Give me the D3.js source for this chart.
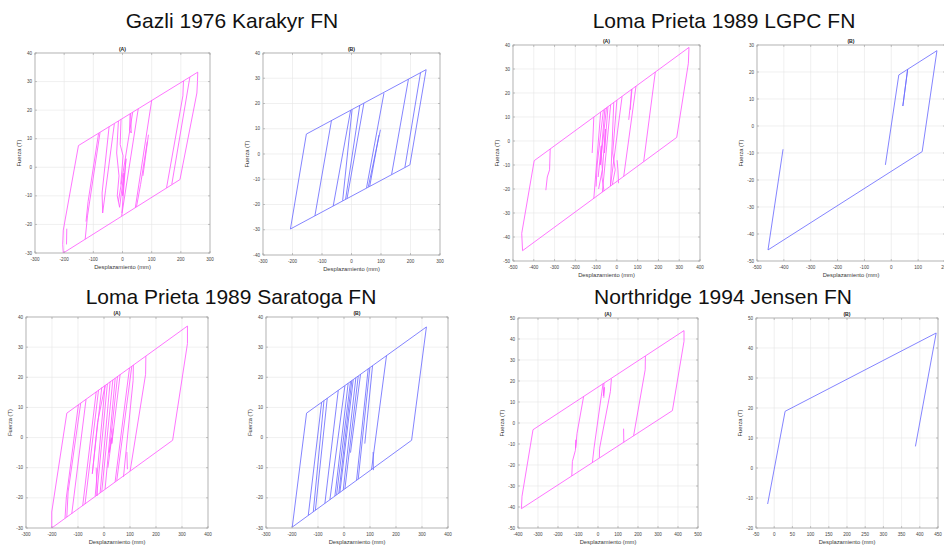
<!DOCTYPE html>
<html><head><meta charset="utf-8">
<script src="https://cdn.jsdelivr.net/npm/d3@7"></script>
<style>body{margin:0;background:#fff;overflow:hidden}svg{display:block}text{font-family:"Liberation Sans",Arial,sans-serif}</style>
</head><body>
<svg id="c" width="944" height="547"></svg>
<script>
// ---------- titles ----------
const groupTitles = ["Gazli 1976 Karakyr FN","Loma Prieta 1989 LGPC FN","Loma Prieta 1989 Saratoga FN","Northridge 1994 Jensen FN"];
const subTitles = ["(A)","(B)"];
const xLabel = "Desplazamiento (mm)";
const yLabel = "Fuerza (T)";

// ---------- tick labels ----------
const xTicksGazli = [-300,-200,-100,0,100,200,300];
const yTicksGazliA = [-30,-20,-10,0,10,20,30,40];
const yTicksGazliB = [-40,-30,-20,-10,0,10,20,30,40];
const xTicksLgpcA = [-500,-400,-300,-200,-100,0,100,200,300,400];
const yTicksLgpcA = [-50,-40,-30,-20,-10,0,10,20,30,40];
const xTicksLgpcB = [-500,-400,-300,-200,-100,0,100,200];
const yTicksLgpcB = [-50,-40,-30,-20,-10,0,10,20,30];
const xTicksSaratoga = [-300,-200,-100,0,100,200,300,400];
const yTicksSaratoga = [-30,-20,-10,0,10,20,30,40];
const xTicksNorthA = [-400,-300,-200,-100,0,100,200,300,400,500];
const yTicksNorthA = [-50,-40,-30,-20,-10,0,10,20,30,40,50];
const xTicksNorthB = [-50,0,50,100,150,200,250,300,350,400,450];
const yTicksNorthB = [-20,-10,0,10,20,30,40,50];

// ---------- series: hysteresis strokes [desplazamiento mm, fuerza T] ----------
const gazliA = [
 [[-151,7.6],[258,33.3],[257,30],[255,26],[197,-4.3],[-203,-30],[-205,-27],[-203,-22],[-151,7.6]],
 [[-191,-21.5],[-192,-27]],
 [[-77,12.2],[-120,-17],[-128,-25.2]],
 [[-82,11.9],[-118,-12],[-125,-19]],
 [[-46,14.2],[-70,-9],[-68,-16]],
 [[-68,-16],[-58,-8],[-28,15.2]],
 [[-14,16.2],[-20,5],[-12,-3],[-18,-10],[-10,-14]],
 [[-10,-14],[5,-2],[0,-10],[12,3],[-2,-16]],
 [[-5,16.8],[-8,8],[2,4],[-6,-6]],
 [[26,18.7],[24,13],[30,12],[28,18.8]],
 [[35,19.3],[-14,-12]],
 [[54,20.5],[-3,-17]],
 [[100,23.4],[44,-14.1]],
 [[89,11.4],[70,-3]],
 [[85,9],[62,-6],[48,-13.8]],
 [[209,30.2],[207,25],[151,-7.2]],
 [[231,31.6],[169,-6]]
];
const gazliB = [
 [[-153,7.9],[253,33.4],[198,-4.3],[-207,-29.7],[-153,7.9]],
 [[-68,13.2],[-124,-24.5]],
 [[-3,17.3],[-62,-20.6]],
 [[2,17.6],[-30,-18.5]],
 [[28,19.3],[-20,-17.9]],
 [[42,20.1],[-15,-17.6]],
 [[110,24.1],[51,-13.4]],
 [[98,9.6],[57,-13]],
 [[93,7.5],[62,-12.7]],
 [[193,29.6],[136,-8.1]],
 [[234,32.2],[181,-5.3]]
];
const lgpcA = [
 [[-398,-8.2],[347,39],[344,32.4],[288,1.5],[-454,-45.7],[-458,-38.5],[-398,-8.2]],
 [[-321,-3.3],[-324,-12],[-335,-15],[-342,-20.5]],
 [[-111,10],[-116,0],[-119,-5]],
 [[-78,12.1],[-111,-23.9]],
 [[-65,12.9],[-95,-10],[-100,-19]],
 [[-58,13.4],[-75,-5],[-70,-12],[-88,-20]],
 [[-50,13.9],[-80,-10],[-75,-2],[-90,-15]],
 [[-43,14.3],[-60,-5],[-55,5],[-72,-15],[-62,-20.9]],
 [[-30,15.1],[-70,-21.3]],
 [[-15,16.1],[-31,-18.8]],
 [[0,17],[-20,-5],[-8,-12],[-22,-18.2]],
 [[25,18.6],[-31,-18.8]],
 [[73,21.7],[57,8.8]],
 [[70,21.5],[65,13]],
 [[92,22.9],[33,-14.7]],
 [[185,28.8],[129,-8.6]],
 [[1,-8],[5,-12],[8,-17.6]]
];
const lgpcB = [
 [[-22,-14.4],[28,18.9],[61,21],[43,7.4],[61,21],[170,27.9],[115,-9.5],[-459,-45.9],[-403,-8.6]]
];
const saratogaA = [
 [[-143,8.1],[321,37],[321,31.2],[264,-0.9],[-201,-30],[-201,-24.7],[-143,8.1]],
 [[-98.5,10.9],[-145,-20],[-150,-26.8]],
 [[-89.5,11.4],[-138,-18],[-143,-26.4]],
 [[-69,12.7],[-124,-25.3]],
 [[-30,15.2],[-82,-22.7]],
 [[-21,15.8],[-73,-22.1]],
 [[-8.6,16.6],[-30,0],[-45,-12]],
 [[-45,-12],[-25,5],[4.2,17.3]],
 [[4.2,17.3],[-34,-19.5]],
 [[13,17.8],[-28,-19.2]],
 [[23.5,18.5],[-15,-18.4]],
 [[34,19.1],[-8.6,-18]],
 [[43,19.7],[4.2,-17.1]],
 [[52,20.3],[20,-5],[30,0],[15,-10]],
 [[62,20.9],[30,-2],[35,3]],
 [[98,23.1],[42.7,-14.7]],
 [[107,23.7],[49,-14.3]],
 [[113,24.1],[112,19],[75,-13]],
 [[161,27],[160,21],[100.5,-11.1]],
 [[88,-4.8],[90,-10.5]],
 [[-30,-10],[-26,-19.3]]
];
const saratogaB = [
 [[-144,8.1],[317,36.7],[260,-0.9],[-199,-29.7],[-144,8.1]],
 [[-86,11.7],[-137.4,-25.8]],
 [[-77,12.3],[-118,-24.6]],
 [[-64.4,13.1],[-110,-24.1]],
 [[-22,15.7],[-73.4,-21.8]],
 [[3.5,17.2],[-54.2,-20.6]],
 [[16,18],[-35,-19.4]],
 [[25,18.6],[-28.6,-19]],
 [[30,18.9],[-20,-18.5]],
 [[35.5,19.2],[-15.8,-18.2]],
 [[45.7,19.9],[-3,-17.4]],
 [[54.7,20.4],[3.5,-17]],
 [[63.6,21],[25,-5]],
 [[93,22.8],[48.3,-14.2]],
 [[99.5,23.2],[54.7,-13.8]],
 [[109.7,23.8],[80,-2]],
 [[163.5,27.2],[105.9,-10.6]],
 [[112,-4.8],[113,-10.8]]
];
const northA = [
 [[-325,-3.2],[430,44],[430,38.9],[372,5.9],[-383,-40.8],[-380,-34.9],[-325,-3.2]],
 [[-72,12.6],[-105,-5],[-112,-12],[-110,-8],[-113,-13],[-128,-18.3],[-131,-25.2]],
 [[30,19],[27,13],[32,17],[29,12]],
 [[-28,-18.8],[-20,-12],[25,18.7]],
 [[7,-16.6],[8,-12],[62,15],[67,21.1]],
 [[237,31.9],[236,25.4],[178,-6.1]],
 [[128,-2.7],[129,-9.2]]
];
const northB = [
 [[-18,-12],[30,18.9],[445,45],[388,7.2]]
];

// ---------- layout ----------
const MAG = "#ff5cff", BLU = "#6e6eff";
const panels = [
 {data:gazliA, color:MAG, sub:0, box:[35,53,210,253], xd:[-300,300], yd:[-30,40], xt:xTicksGazli, yt:yTicksGazliA},
 {data:gazliB, color:BLU, sub:1, box:[263,53,440,255], xd:[-300,300], yd:[-40,40], xt:xTicksGazli, yt:yTicksGazliB},
 {data:lgpcA, color:MAG, sub:0, box:[513,45,700,261], xd:[-500,400], yd:[-50,40], xt:xTicksLgpcA, yt:yTicksLgpcA},
 {data:lgpcB, color:BLU, sub:1, box:[757,45,945,261], xd:[-500,200], yd:[-50,30], xt:xTicksLgpcB, yt:yTicksLgpcB},
 {data:saratogaA, color:MAG, sub:0, box:[26,317,208,528], xd:[-300,400], yd:[-30,40], xt:xTicksSaratoga, yt:yTicksSaratoga},
 {data:saratogaB, color:BLU, sub:1, box:[266,317,448,528], xd:[-300,400], yd:[-30,40], xt:xTicksSaratoga, yt:yTicksSaratoga},
 {data:northA, color:MAG, sub:0, box:[518,318,698,528], xd:[-400,500], yd:[-50,50], xt:xTicksNorthA, yt:yTicksNorthA},
 {data:northB, color:BLU, sub:1, box:[756,318,938,528], xd:[-50,450], yd:[-20,50], xt:xTicksNorthB, yt:yTicksNorthB}
];
const titlePos = [[232,28],[724,28],[231,304],[723,304]];

const svg = d3.select("#c");
svg.append("rect").attr("width",944).attr("height",547).attr("fill","#fff");

groupTitles.forEach((t,i)=>{
  svg.append("text").attr("x",titlePos[i][0]).attr("y",titlePos[i][1])
    .attr("text-anchor","middle").attr("font-size",21).attr("fill","#111").text(t);
});

panels.forEach((p,pi)=>{
  const [l,t,r,b] = p.box;
  const xs = d3.scaleLinear().domain(p.xd).range([l,r]);
  const ys = d3.scaleLinear().domain(p.yd).range([b,t]);
  const g = svg.append("g");
  // grid
  g.selectAll(null).data(p.xt).join("line")
    .attr("x1",d=>xs(d)).attr("x2",d=>xs(d)).attr("y1",t).attr("y2",b)
    .attr("stroke","#e6e6e6").attr("stroke-width",0.6);
  g.selectAll(null).data(p.yt).join("line")
    .attr("y1",d=>ys(d)).attr("y2",d=>ys(d)).attr("x1",l).attr("x2",r)
    .attr("stroke","#e6e6e6").attr("stroke-width",0.6);
  // data
  const cid = "clip"+pi;
  svg.append("clipPath").attr("id",cid).append("rect").attr("x",l).attr("y",t).attr("width",r-l).attr("height",b-t);
  const line = d3.line().x(d=>xs(d[0])).y(d=>ys(d[1]));
  g.append("g").attr("clip-path",`url(#${cid})`).selectAll("path").data(p.data).join("path")
    .attr("d",line).attr("fill","none").attr("stroke",p.color).attr("stroke-width",0.85)
    .attr("stroke-linejoin","round");
  // box
  g.append("rect").attr("x",l).attr("y",t).attr("width",r-l).attr("height",b-t)
    .attr("fill","none").attr("stroke","#a0a0a0").attr("stroke-width",0.7);
  // ticks inside
  const tl = 2;
  g.selectAll(null).data(p.xt).join("path")
    .attr("d",d=>`M${xs(d)},${b}v${-tl}M${xs(d)},${t}v${tl}`).attr("stroke","#a0a0a0").attr("stroke-width",0.6);
  g.selectAll(null).data(p.yt).join("path")
    .attr("d",d=>`M${l},${ys(d)}h${tl}M${r},${ys(d)}h${-tl}`).attr("stroke","#a0a0a0").attr("stroke-width",0.6);
  // tick labels
  g.selectAll(null).data(p.xt).join("text")
    .attr("x",d=>xs(d)).attr("y",b+8).attr("text-anchor","middle")
    .attr("font-size",4.6).attr("fill","#444").text(d=>d);
  g.selectAll(null).data(p.yt).join("text")
    .attr("x",l-3).attr("y",d=>ys(d)+1.6).attr("text-anchor","end")
    .attr("font-size",4.6).attr("fill","#444").text(d=>d);
  // axis labels
  g.append("text").attr("x",(l+r)/2).attr("y",b+15.5).attr("text-anchor","middle")
    .attr("font-size",5.8).attr("fill","#383838").text(xLabel);
  g.append("text").attr("transform",`translate(${l-14},${(t+b)/2}) rotate(-90)`)
    .attr("text-anchor","middle").attr("font-size",5.8).attr("fill","#383838").text(yLabel);
  // subplot title
  g.append("text").attr("x",(l+r)/2).attr("y",t-2.5).attr("text-anchor","middle")
    .attr("font-size",5.2).attr("font-weight","bold").attr("fill","#222").text(subTitles[p.sub]);
});
</script>
</body></html>
